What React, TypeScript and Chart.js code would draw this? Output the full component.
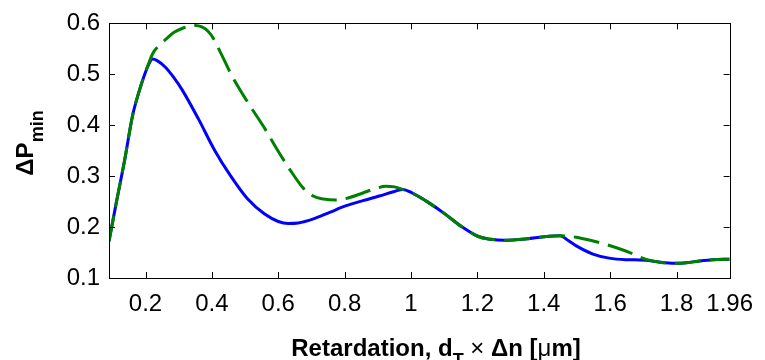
import React, { useEffect, useRef } from "react";
import { Chart, registerables } from "chart.js";
Chart.register(...registerables);

const blueX = [0.09, 0.112, 0.137, 0.161, 0.18, 0.196, 0.21, 0.221, 0.235, 0.26, 0.285, 0.31, 0.359, 0.409, 0.458, 0.508, 0.558, 0.6, 0.63, 0.66, 0.706, 0.755, 0.805, 0.855, 0.904, 0.95, 0.975, 1.003, 1.053, 1.102, 1.152, 1.201, 1.24, 1.28, 1.35, 1.4, 1.449, 1.475, 1.498, 1.548, 1.597, 1.647, 1.706, 1.75, 1.795, 1.83, 1.865, 1.91, 1.96];
const blueY = [0.172, 0.248, 0.331, 0.419, 0.465, 0.497, 0.52, 0.53, 0.527, 0.514, 0.494, 0.47, 0.413, 0.35, 0.299, 0.255, 0.226, 0.211, 0.207, 0.208, 0.216, 0.229, 0.242, 0.252, 0.261, 0.27, 0.274, 0.267, 0.248, 0.226, 0.201, 0.182, 0.176, 0.174, 0.177, 0.181, 0.183, 0.173, 0.163, 0.147, 0.139, 0.136, 0.135, 0.131, 0.129, 0.13, 0.133, 0.136, 0.137];

const greenX = [0.09, 0.112, 0.137, 0.161, 0.18, 0.196, 0.21, 0.221, 0.24, 0.26, 0.285, 0.31, 0.33, 0.35, 0.37, 0.389, 0.405, 0.419, 0.438, 0.458, 0.508, 0.558, 0.597, 0.637, 0.676, 0.705, 0.736, 0.775, 0.815, 0.855, 0.89, 0.924, 0.95, 0.975, 1.003, 1.053, 1.102, 1.152, 1.201, 1.24, 1.28, 1.35, 1.4, 1.449, 1.475, 1.498, 1.54, 1.587, 1.647, 1.68, 1.706, 1.75, 1.795, 1.83, 1.865, 1.91, 1.96];
const greenY = [0.172, 0.248, 0.331, 0.419, 0.465, 0.497, 0.522, 0.54, 0.556, 0.568, 0.582, 0.59, 0.594, 0.596, 0.593, 0.584, 0.57, 0.552, 0.527, 0.5, 0.445, 0.395, 0.352, 0.311, 0.276, 0.261, 0.255, 0.253, 0.258, 0.267, 0.275, 0.28, 0.279, 0.274, 0.267, 0.248, 0.226, 0.201, 0.182, 0.176, 0.174, 0.177, 0.181, 0.183, 0.182, 0.18, 0.174, 0.166, 0.153, 0.144, 0.137, 0.131, 0.129, 0.13, 0.133, 0.136, 0.137];

const xTickValues = [0.2, 0.4, 0.6, 0.8, 1, 1.2, 1.4, 1.6, 1.8, 1.96];
const yTickValues = [0.1, 0.2, 0.3, 0.4, 0.5, 0.6];
const xMin = 0.09;
const xMax = 1.96;
const yMin = 0.1;
const yMax = 0.6;

// x title pieces: [text, style] where style: "b" bold, "s" bold subscript, "n" normal
const xTitleParts: [string, string][] = [
  ["Retardation, d", "b"],
  ["T", "s"],
  [" ", "b"],
  ["\u00d7", "n"],
  [" \u0394n [", "b"],
  ["\u03bc", "n"],
  ["m]", "b"],
];
const yTitleMain = "\u0394P";
const yTitleSub = "min";

const FONT = '"Liberation Sans", Arial, Helvetica, sans-serif';

const fmt = (v: number) => String(Number(v.toFixed(2)));

const fontFor = (style: string) =>
  style === "s" ? `bold 18px ${FONT}` : style === "n" ? `24px ${FONT}` : `bold 24px ${FONT}`;

const frameAndTitles = {
  id: "frameAndTitles",
  afterDraw(chart: any) {
    const { ctx, chartArea } = chart;
    const { left, right, top, bottom } = chartArea;
    const xs = chart.scales.x;
    const ys = chart.scales.y;
    ctx.save();
    ctx.strokeStyle = "#000";
    ctx.lineWidth = 1;
    ctx.strokeRect(Math.round(left) + 0.5, Math.round(top) + 0.5, Math.round(right - left), Math.round(bottom - top));
    const tl = 6;
    ctx.beginPath();
    xTickValues.forEach((v) => {
      const px = Math.round(xs.getPixelForValue(v)) + 0.5;
      ctx.moveTo(px, bottom);
      ctx.lineTo(px, bottom - tl);
      ctx.moveTo(px, top);
      ctx.lineTo(px, top + tl);
    });
    yTickValues.forEach((v) => {
      const py = Math.round(ys.getPixelForValue(v)) + 0.5;
      ctx.moveTo(left, py);
      ctx.lineTo(left + tl, py);
      ctx.moveTo(right, py);
      ctx.lineTo(right - tl, py);
    });
    ctx.stroke();

    // x title
    ctx.fillStyle = "#000";
    ctx.textBaseline = "alphabetic";
    ctx.textAlign = "left";
    const widths = xTitleParts.map(([t, s]) => {
      ctx.font = fontFor(s);
      return ctx.measureText(t).width;
    });
    const total = widths.reduce((a, b) => a + b, 0);
    let x0 = 436 - total / 2;
    const base = 356;
    xTitleParts.forEach(([t, s], i) => {
      ctx.font = fontFor(s);
      ctx.fillText(t, x0, s === "s" ? base + 10 : base);
      x0 += widths[i];
    });

    // y title (rotated)
    ctx.save();
    ctx.translate(33, 143);
    ctx.rotate(-Math.PI / 2);
    ctx.font = fontFor("b");
    const m1 = ctx.measureText(yTitleMain).width;
    ctx.font = fontFor("s");
    const m2 = ctx.measureText(yTitleSub).width;
    const tot = m1 + m2;
    ctx.font = fontFor("b");
    ctx.fillText(yTitleMain, -tot / 2, 0);
    ctx.font = fontFor("s");
    ctx.fillText(yTitleSub, -tot / 2 + m1, 10);
    ctx.restore();
    ctx.restore();
  },
};

export default function App() {
  const canvasRef = useRef<HTMLCanvasElement | null>(null);
  useEffect(() => {
    document.body.style.margin = "0";
    const canvas = canvasRef.current;
    if (!canvas) return;
    const tickFont = { family: FONT, size: 24 };
    const chart = new Chart(canvas, {
      type: "line",
      data: {
        datasets: [
          {
            data: greenX.map((x, i) => ({ x, y: greenY[i] })),
            borderColor: "#008000",
            borderWidth: 3,
            borderDash: [26, 9],
            pointRadius: 0,
            fill: false,
            cubicInterpolationMode: "monotone",
            order: 0,
          },
          {
            data: blueX.map((x, i) => ({ x, y: blueY[i] })),
            borderColor: "#0000ff",
            borderWidth: 3,
            pointRadius: 0,
            fill: false,
            cubicInterpolationMode: "monotone",
            order: 1,
          },
        ],
      },
      options: {
        animation: false,
        responsive: false,
        devicePixelRatio: 1,
        layout: { padding: { top: 15, right: 26, left: 0, bottom: 0 } },
        plugins: { legend: { display: false }, tooltip: { enabled: false } },
        scales: {
          x: {
            type: "linear",
            min: xMin,
            max: xMax,
            grid: { display: false, drawTicks: false },
            border: { display: false },
            ticks: {
              font: tickFont,
              color: "#000",
              padding: 12,
              autoSkip: false,
              maxRotation: 0,
              callback: (v: any) => fmt(Number(v)),
            },
            afterBuildTicks: (s: any) => {
              s.ticks = xTickValues.map((v) => ({ value: v }));
            },
            afterFit: (s: any) => {
              s.height = 82;
            },
          },
          y: {
            type: "linear",
            min: yMin,
            max: yMax,
            grid: { display: false, drawTicks: false },
            border: { display: false },
            ticks: {
              font: tickFont,
              color: "#000",
              padding: 9,
              autoSkip: false,
              callback: (v: any) => fmt(Number(v)),
            },
            afterBuildTicks: (s: any) => {
              s.ticks = yTickValues.map((v) => ({ value: v }));
            },
            afterFit: (s: any) => {
              s.width = 109;
            },
          },
        },
      },
      plugins: [frameAndTitles],
    } as any);
    return () => chart.destroy();
  }, []);
  return (
    <div style={{ width: 765, height: 360, background: "#fff" }}>
      <canvas ref={canvasRef} width={765} height={360} />
    </div>
  );
}
